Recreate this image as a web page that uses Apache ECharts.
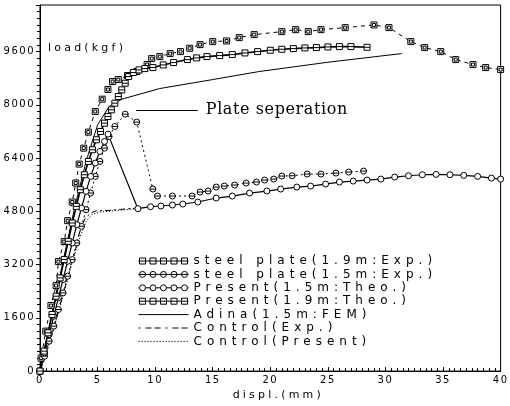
<!DOCTYPE html>
<html><head><meta charset="utf-8">
<script src="https://cdn.jsdelivr.net/npm/echarts@6/dist/echarts.min.js"></script>
<style>html,body{margin:0;padding:0;background:#fff}#c{width:510px;height:406px}</style>
</head><body><div id="c"></div>
<script>
// letter spacing to imitate the wide-spaced plotter lettering
(function(){
  var P = CanvasRenderingContext2D.prototype, orig = P.fillText;
  var SP = {10:'1.5px', 11:'3.2px', 12:'5px', 16:'0.6px'};
  P.fillText = function(t,x,y,w){
    var m = /(\d+)px/.exec(this.font), ls = m && SP[m[1]];
    var prev;
    if (ls && ('letterSpacing' in this)) { prev = this.letterSpacing; this.letterSpacing = ls; }
    var r = (w === undefined) ? orig.call(this,t,x,y) : orig.call(this,t,x,y,w);
    if (prev !== undefined) this.letterSpacing = prev;
    return r;
  };
})();

// ---- data (displacement mm, load kgf) ----
var seriesNames = ['steel plate(1.9m:Exp.)','steel plate(1.5m:Exp.)','Present(1.5m:Theo.)','Present(1.9m:Theo.)','Adina(1.5m:FEM)','Control(Exp.)','Control(Present)'];

var exp19X = [0,0.1,0.5,0.95,1.4,1.6,2.1,2.4,2.8,3.1,3.4,3.8,4.2,4.8,5.4,5.9,6.3,6.8,7.6,8.4,9.3,9.7,10.4,11.3,12.2,13.0,13.9,15.0,16.2,17.3,18.6,21.0,22.2,23.3,24.4,26.5,29.0,30.3,32.2,33.4,34.8,36.1,37.6,38.7,40.0];
var exp19Y = [0,390,1200,1970,2570,3290,3890,4520,5080,5650,6220,6700,7180,7800,8170,8460,8700,8760,8880,9000,9210,9390,9450,9540,9600,9700,9810,9900,9920,10020,10110,10200,10260,10200,10260,10320,10400,10320,9900,9720,9600,9360,9210,9120,9060];

var exp15X = [0,0.4,0.8,1.2,1.6,2.0,2.4,2.8,3.2,3.6,4.0,4.4,4.8,5.2,5.6,6.0,6.5,7.4,8.4,9.8,10.2,11.5,13.2,13.9,14.6,15.3,16.0,16.9,17.9,18.8,19.5,20.3,21.0,21.9,23.2,24.4,25.7,26.8,28.1];
var exp15Y = [0,450,900,1350,1850,2350,2850,3350,3850,4350,4850,5350,5850,6300,6700,7050,7350,7720,7480,5470,5260,5260,5260,5380,5410,5530,5560,5590,5650,5680,5740,5770,5860,5870,5920,5920,5950,5980,6010];

var theo15X = [0,0.4,0.8,1.2,1.6,2.0,2.4,2.8,3.2,3.6,4.0,4.4,4.8,5.2,5.6,5.9,8.5,9.6,10.5,11.5,12.4,13.7,15.3,16.7,18.2,19.7,20.9,22.3,23.5,24.8,26.0,27.2,28.4,29.6,30.8,32.0,33.2,34.4,35.6,36.8,38.0,39.2,40.0];
var theo15Y = [0,550,1100,1650,2200,2750,3300,3850,4400,4900,5400,5850,6250,6600,6900,7120,4880,4940,4960,4990,5020,5080,5200,5260,5350,5410,5470,5530,5560,5620,5680,5710,5740,5770,5830,5870,5900,5910,5900,5880,5850,5800,5770];

var theo19X = [0,0.35,0.7,1.05,1.4,1.75,2.1,2.45,2.8,3.15,3.5,3.85,4.2,4.55,4.9,5.25,5.6,5.9,6.2,6.5,6.8,7.1,7.4,7.7,8.1,8.6,9.1,9.8,10.7,11.6,12.8,13.6,14.5,15.6,16.7,17.8,18.9,20.0,21.0,22.0,23.0,24.0,25.0,26.0,27.0,28.4];
var theo19Y = [0,600,1150,1700,2250,2800,3350,3900,4450,4950,5450,5900,6300,6650,6950,7200,7450,7650,7850,8050,8250,8450,8650,8850,8970,9050,9090,9120,9200,9270,9360,9410,9450,9480,9510,9560,9600,9640,9670,9690,9710,9720,9740,9750,9750,9730];

var adinaX = [0,1,2,3,4,5,6,7.1,10.4,15,19,25,31.4];
var adinaY = [0,1650,3300,4900,6300,7400,7950,8170,8490,8760,9000,9280,9540];

var ctrlExpX = [0,0.6,1.2,1.8,2.4,3.0,3.45,3.9,4.4,4.9,6,7,8.5];
var ctrlExpY = [0,600,1290,2050,2800,3550,4190,4580,4750,4815,4830,4860,4900];

var ctrlPreX = [0,0.5,1,1.5,2,2.5,3,3.5,4,4.5,5.2,6.5,8.5];
var ctrlPreY = [0,500,1050,1650,2250,2900,3500,4050,4500,4700,4780,4820,4880];

var xTicks = [0,5,10,15,20,25,30,35,40];
var yTicks = [0,1600,3200,4800,6400,8000,9600];

var annotX = [8.36, 13.7];
var annotY = 7836;
var annotText = 'Plate seperation';

function pairs(xs, ys){ return xs.map(function(x,i){ return [x, ys[i]]; }); }

// ---- symbols ----
var SQ_BAR = 'path://M0 0H10V10H0Z M0 5H10';
var CI_BAR = 'path://M0 5A5 5 0 1 0 10 5A5 5 0 1 0 0 5Z M0 5H10';
var CI = 'path://M0 5A5 5 0 1 0 10 5A5 5 0 1 0 0 5Z';
var SQ = 'path://M0 0H10V10H0Z M2.5 2.5H7.5V7.5H2.5Z';

// legend icons, 50 x 8 box
var cs = [4,14.5,25,35.5,46];
function sqIcon(){ var p='path://M0 4L50 4 M0 0 M50 8'; cs.forEach(function(c){ p+=' M'+(c-3)+' 1h6v6h-6Z'; }); return p; }
function ciIcon(bar){ var p='path://'; if(bar){p+='M0 4L50 4';} else { p+='M0 4L1 4'; for(var i=0;i<cs.length-1;i++){ p+=' M'+(cs[i]+3)+' 4L'+(cs[i+1]-3)+' 4'; } p+=' M49 4L50 4'; }
  cs.forEach(function(c){ p+=' M'+(c-3)+' 4a3 3 0 1 0 6 0a3 3 0 1 0 -6 0'; }); return p + ' M0 0 M50 8'; }
function dashIcon(pattern){ var p='path://M0 0 M50 8', x=0, k=0; while(x<50){ var d=pattern[k%pattern.length], g=pattern[(k+1)%pattern.length]; var e=Math.min(50,x+d); p+=' M'+x+' 4L'+e+' 4'; x=e+g; k+=2; } return p; }

var iconStyle = {color:'#fff', borderColor:'#000', borderWidth:1};
var legendData = [
  {name:seriesNames[0], icon:sqIcon(), itemStyle:iconStyle},
  {name:seriesNames[1], icon:ciIcon(true), itemStyle:iconStyle},
  {name:seriesNames[2], icon:ciIcon(false), itemStyle:iconStyle},
  {name:seriesNames[3], icon:sqIcon(), itemStyle:iconStyle},
  {name:seriesNames[4], icon:dashIcon([50,0]), itemStyle:iconStyle},
  {name:seriesNames[5], icon:dashIcon([2,5,6,3,6,5]), itemStyle:iconStyle},
  {name:seriesNames[6], icon:dashIcon([1.2,1.8]), itemStyle:iconStyle}
];

var mk = {color:'#fff', borderColor:'#000', borderWidth:1};
function lineSeries(name, data, sym, lineType, width, extra){
  var s = {name:name, type:'line', data:data, symbol:sym, symbolSize:6, showSymbol: sym!=='none',
    itemStyle:mk, color:'#000',
    lineStyle:{color:'#000', width:width, type:lineType}, emphasis:{disabled:true}, animation:false, z:2};
  if (extra) for (var k in extra) s[k]=extra[k];
  return s;
}

var chart = echarts.init(document.getElementById('c'), null, {renderer:'canvas'});
chart.setOption({
  animation:false,
  backgroundColor:'#fff',
  grid:{left:40, right:6, top:5, bottom:33, show:true, borderColor:'#000', borderWidth:1, backgroundColor:'transparent'},
  legend:{orient:'vertical', left:133, top:250, itemWidth:50, itemHeight:8, itemGap:1.4, selectedMode:false,
    data:legendData, textStyle:{fontFamily:'DejaVu Sans', fontSize:12, color:'#000'}},
  xAxis:{type:'value', min:0, max:40, interval:5,
    name:'displ.(mm)', nameLocation:'middle', nameGap:18,
    nameTextStyle:{fontFamily:'DejaVu Sans', fontSize:11, color:'#000', padding:[0,0,0,16]},
    axisLine:{lineStyle:{color:'#000', width:1}},
    axisTick:{inside:true, length:4, lineStyle:{color:'#000'}},
    minorTick:{show:true, splitNumber:10, length:3, lineStyle:{color:'#000'}},
    axisLabel:{fontFamily:'DejaVu Sans', fontSize:10, color:'#000', margin:4},
    splitLine:{show:false}},
  yAxis:{type:'value', min:0, max:11000, interval:1600,
    name:'load(kgf)', nameLocation:'end', nameGap:-43,
    nameTextStyle:{fontFamily:'DejaVu Sans', fontSize:11, color:'#000', align:'left', verticalAlign:'middle', padding:[0,0,0,8]},
    axisLine:{lineStyle:{color:'#000', width:1}},
    axisTick:{inside:false, length:4, lineStyle:{color:'#000'}},
    minorTick:{show:true, splitNumber:8, length:3, lineStyle:{color:'#000'}},
    axisLabel:{fontFamily:'DejaVu Sans', fontSize:10, color:'#000', margin:5,
      formatter:function(v){ return yTicks.indexOf(v) >= 0 ? String(v) : ''; }},
    splitLine:{show:false}},
  series:[
    lineSeries(seriesNames[4], pairs(adinaX, adinaY), 'none', 'solid', 1),
    lineSeries(seriesNames[5], pairs(ctrlExpX, ctrlExpY), 'none', [6,3,2,3], 1),
    lineSeries(seriesNames[6], pairs(ctrlPreX, ctrlPreY), 'none', [1.2,1.8], 1),
    lineSeries(seriesNames[0], pairs(exp19X, exp19Y), SQ, [4,4], 1),
    lineSeries(seriesNames[1], pairs(exp15X, exp15Y), CI_BAR, [2,3], 1, {
      markLine:{silent:true, symbol:['none','none'], animation:false,
        lineStyle:{type:'solid', color:'#000', width:1},
        label:{show:true, position:'end', distance:8, formatter:annotText, fontFamily:'DejaVu Serif', fontSize:16, color:'#000'},
        data:[[{coord:[annotX[0], annotY]},{coord:[annotX[1], annotY]}]]}
    }),
    lineSeries(seriesNames[2], pairs(theo15X, theo15Y), CI, 'solid', 1.2),
    lineSeries(seriesNames[3], pairs(theo19X, theo19Y), SQ_BAR, 'solid', 1.6)
  ]
});
</script></body></html>
